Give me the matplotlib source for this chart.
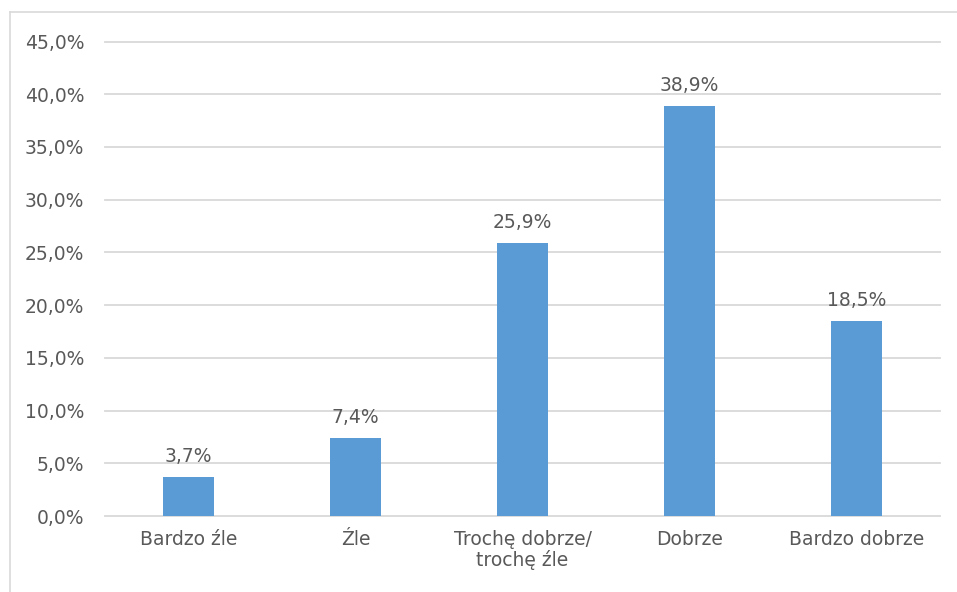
import matplotlib
matplotlib.use("Agg")
import matplotlib.pyplot as plt
from matplotlib.lines import Line2D
from matplotlib.ticker import FuncFormatter

# dane z wykresu
categories = ["Bardzo źle", "Źle", "Trochę dobrze/\ntrochę źle", "Dobrze", "Bardzo dobrze"]
values = [3.7, 7.4, 25.9, 38.9, 18.5]
yticks = [0, 5, 10, 15, 20, 25, 30, 35, 40, 45]

text_color = "#595959"
bar_color = "#5b9bd5"
grid_color = "#d9d9d9"

plt.rcParams["font.family"] = ["DejaVu Sans"]
fs = 13.5

W, H = 957, 592
fig = plt.figure(figsize=(W / 100, H / 100), dpi=100)
ax = fig.add_axes([105 / W, (H - 516) / H, (940 - 105) / W, (516 - 41.5) / H])

x = list(range(len(categories)))
ax.bar(x, values, width=0.31, color=bar_color, zorder=3)

for xi, v in zip(x, values):
    ax.text(xi, v + 1.0, f"{v:.1f}%".replace(".", ","), ha="center", va="bottom",
            fontsize=fs, color=text_color)

ax.set_ylim(0, 45)
ax.set_xlim(-0.5, len(categories) - 0.5)
ax.set_yticks(yticks)
ax.yaxis.set_major_formatter(FuncFormatter(lambda v, p: f"{v:.1f}%".replace(".", ",")))
ax.set_xticks(x)
ax.set_xticklabels(categories)
ax.tick_params(axis="both", length=0, labelsize=fs, labelcolor=text_color)
ax.tick_params(axis="x", pad=10)
ax.tick_params(axis="y", pad=15)
for lbl in ax.get_xticklabels():
    lbl.set_linespacing(1.05)

ax.grid(axis="y", color=grid_color, linewidth=1.3, zorder=0)
for gl in ax.get_ygridlines():
    gl.set_clip_on(False)
for s in ax.spines.values():
    s.set_visible(False)

# ramka wykresu (widoczna tylko z lewej i u góry)
fig.add_artist(Line2D([10 / W, 10 / W], [0, 1 - 12 / H], color=grid_color, lw=1.2,
                      transform=fig.transFigure))
fig.add_artist(Line2D([10 / W, 1], [1 - 12 / H, 1 - 12 / H], color=grid_color, lw=1.2,
                      transform=fig.transFigure))

fig.savefig("out.png", dpi=100)
